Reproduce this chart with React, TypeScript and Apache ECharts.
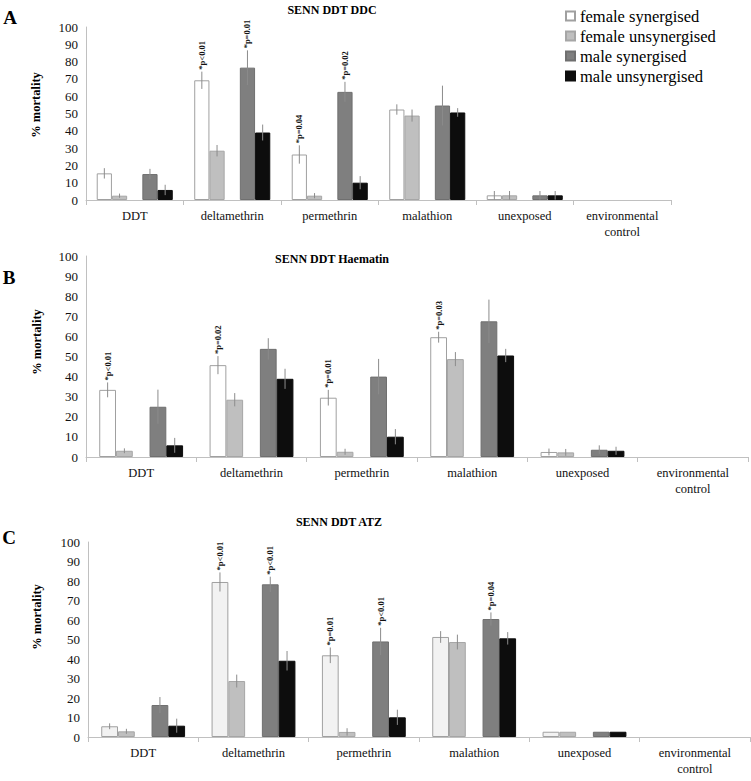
import React, { useEffect, useRef } from "react";
import * as echarts from "echarts";

// ---------- data ----------
const categories = ["DDT", "deltamethrin", "permethrin", "malathion", "unexposed", "environmental\ncontrol"];
const seriesNames = ["female synergised", "female unsynergised", "male synergised", "male unsynergised"];
const yTicks = { min: 0, max: 100, interval: 10 };

// Panel A: SENN DDT DDC
const aFemaleSyn = [15.4, 69.2, 26.3, 52.3, 2.7, 0];
const aFemaleUnsyn = [2.5, 28.5, 2.5, 48.8, 2.7, 0];
const aMaleSyn = [15, 76.5, 62.5, 54.6, 2.7, 0];
const aMaleUnsyn = [5.8, 39, 10, 50.6, 2.7, 0];
const aFemaleSynErr = [3, 5, 5.3, 3, 2.5, 0];
const aFemaleUnsynErr = [1.2, 3.3, 1.5, 3.5, 2.5, 0];
const aMaleSynErr = [3, 10, 5.8, 11.5, 2.5, 0];
const aMaleUnsynErr = [3, 4.6, 3.8, 2.5, 2.5, 0];
// [category index, series index, text]
const aNotes: [number, number, string][] = [
  [1, 0, "*p<0.01"],
  [1, 2, "*p=0.01"],
  [2, 0, "*p=0.04"],
  [2, 2, "*p=0.02"],
];

// Panel B: SENN DDT Haematin
const bFemaleSyn = [33.4, 45.7, 29.5, 59.6, 2.5, 0];
const bFemaleUnsyn = [3.1, 28.5, 2.6, 48.7, 2.3, 0];
const bMaleSyn = [25, 53.8, 40, 67.5, 3.6, 0];
const bMaleUnsyn = [5.8, 38.9, 10.1, 50.5, 3.1, 0];
const bFemaleSynErr = [3.7, 4.5, 3.9, 2.7, 1.7, 0];
const bFemaleUnsynErr = [1.2, 3.3, 1.5, 3.5, 1.7, 0];
const bMaleSynErr = [8.5, 5.3, 8.8, 10.8, 2.2, 0];
const bMaleUnsynErr = [3.7, 5, 3.8, 3.3, 2, 0];
const bNotes: [number, number, string][] = [
  [0, 0, "*p<0.01"],
  [1, 0, "*p=0.02"],
  [2, 0, "*p=0.01"],
  [3, 0, "*p=0.03"],
];

// Panel C: SENN DDT ATZ
const cFemaleSyn = [5.5, 79.5, 41.9, 51.3, 2.7, 0];
const cFemaleUnsyn = [2.9, 28.7, 2.6, 48.7, 2.7, 0];
const cMaleSyn = [16.4, 78.3, 49, 60.5, 2.7, 0];
const cMaleUnsyn = [5.8, 39.1, 10.1, 50.6, 2.7, 0];
const cFemaleSynErr = [1.5, 4.9, 4, 3, 0, 0];
const cFemaleUnsynErr = [1.3, 3.3, 1.9, 3.8, 0, 0];
const cMaleSynErr = [4.1, 3.9, 7, 3.4, 0, 0];
const cMaleUnsynErr = [3.6, 5, 3.9, 3.2, 0, 0];
const cNotes: [number, number, string][] = [
  [1, 0, "*p<0.01"],
  [1, 2, "*p<0.01"],
  [2, 0, "*p=0.01"],
  [2, 2, "*p<0.01"],
  [3, 2, "*p=0.04"],
];

// ---------- styles / layout ----------
const FONT = "Liberation Serif";
const SLOTS = [0, 1, 3, 4]; // slot 2 is an empty spacer

const panels = [
  {
    letter: "A", title: "SENN DDT DDC",
    values: [aFemaleSyn, aFemaleUnsyn, aMaleSyn, aMaleUnsyn],
    errs: [aFemaleSynErr, aFemaleUnsynErr, aMaleSynErr, aMaleUnsynErr],
    notes: aNotes,
    grid: { left: 86, top: 27, width: 585, height: 173 },
    gap: 0.22, firstColor: "#ffffff",
    titlePos: [332, 10], letterPos: [10, 17], namePos: [36, 105],
  },
  {
    letter: "B", title: "SENN DDT Haematin",
    values: [bFemaleSyn, bFemaleUnsyn, bMaleSyn, bMaleUnsyn],
    errs: [bFemaleSynErr, bFemaleUnsynErr, bMaleSynErr, bMaleUnsynErr],
    notes: bNotes,
    grid: { left: 86, top: 256, width: 662, height: 201 },
    gap: 0.24, firstColor: "#ffffff",
    titlePos: [332, 259], letterPos: [9, 277], namePos: [37, 342],
  },
  {
    letter: "C", title: "SENN DDT ATZ",
    values: [cFemaleSyn, cFemaleUnsyn, cMaleSyn, cMaleUnsyn],
    errs: [cFemaleSynErr, cFemaleUnsynErr, cMaleSynErr, cMaleUnsynErr],
    notes: cNotes,
    grid: { left: 88, top: 542, width: 662, height: 195 },
    gap: 0.24, firstColor: "#f2f2f2",
    titlePos: [339, 522], letterPos: [9, 537], namePos: [37, 617],
  },
];

const baseBarStyles = [
  { color: "#ffffff", borderColor: "#a0a0a0", borderWidth: 1 },
  { color: "#bfbfbf", borderColor: "#a6a6a6", borderWidth: 1 },
  { color: "#7f7f7f", borderColor: "#6f6f6f", borderWidth: 1 },
  { color: "#0d0d0d", borderColor: "#0d0d0d", borderWidth: 1 },
];

function buildOption() {
  const grid: any[] = [];
  const xAxis: any[] = [];
  const yAxis: any[] = [];
  const series: any[] = [];
  const graphic: any[] = [];

  panels.forEach((p, pi) => {
    grid.push({ ...p.grid, containLabel: false });
    xAxis.push({
      type: "category",
      gridIndex: pi,
      data: categories,
      axisLine: { show: true, lineStyle: { color: "#c0c0c0", width: 1 } },
      axisTick: { show: true, length: 5, lineStyle: { color: "#c0c0c0" } },
      axisLabel: {
        interval: 0, margin: 8, fontFamily: FONT, fontSize: 12.5, color: "#111", lineHeight: 16,
      },
      splitLine: { show: false },
    });
    yAxis.push({
      type: "value",
      gridIndex: pi,
      min: yTicks.min, max: yTicks.max, interval: yTicks.interval,
      axisLine: { show: true, lineStyle: { color: "#c0c0c0", width: 1 } },
      axisTick: { show: false },
      axisLabel: { margin: 8, fontFamily: FONT, fontSize: 13, color: "#111" },
      splitLine: { show: false },
    });

    // bars: 4 real series + an empty spacer in the middle
    const order = [0, 1, -1, 2, 3];
    order.forEach((si) => {
      if (si === -1) {
        series.push({
          type: "bar", name: "", xAxisIndex: pi, yAxisIndex: pi,
          data: categories.map(() => null),
          barGap: "0%", barCategoryGap: `${p.gap * 100}%`,
          silent: true,
        });
        return;
      }
      const st = { ...baseBarStyles[si] };
      if (si === 0) st.color = p.firstColor;
      series.push({
        type: "bar", name: seriesNames[si], xAxisIndex: pi, yAxisIndex: pi,
        // zero-height bars are not drawn (as in the original)
        data: p.values[si].map((v) => (v === 0 ? null : v)),
        barGap: "0%", barCategoryGap: `${p.gap * 100}%`,
        itemStyle: st,
        emphasis: { disabled: true },
      });
    });

    // error bars
    const errData: number[][] = [];
    p.values.forEach((vals, si) => {
      vals.forEach((v, ci) => {
        const e = p.errs[si][ci];
        if (e > 0) errData.push([ci, SLOTS[si], v - e, v + e]);
      });
    });
    const gap = p.gap;
    series.push({
      type: "custom", xAxisIndex: pi, yAxisIndex: pi, z: 5, silent: true,
      encode: { x: 0, y: [2, 3] },
      data: errData,
      renderItem: (params: any, api: any) => {
        const ci = api.value(0);
        const slot = api.value(1);
        const lo = api.coord([ci, api.value(2)]);
        const hi = api.coord([ci, api.value(3)]);
        const band = api.size([1, 0])[0];
        const bw = (band * (1 - gap)) / 5;
        const x = lo[0] + (slot - 2) * bw;
        return {
          type: "line",
          shape: { x1: x, y1: lo[1], x2: x, y2: hi[1] },
          style: { stroke: "#8c8c8c", lineWidth: 1 },
        };
      },
    });

    // significance annotations
    const notes = p.notes;
    const noteData = notes.map(([ci, si]) => [ci, SLOTS[si], p.values[si][ci] + p.errs[si][ci]]);
    series.push({
      type: "custom", xAxisIndex: pi, yAxisIndex: pi, z: 6, silent: true,
      encode: { x: 0, y: 2 },
      data: noteData,
      renderItem: (params: any, api: any) => {
        const ci = api.value(0);
        const slot = api.value(1);
        const pt = api.coord([ci, api.value(2)]);
        const band = api.size([1, 0])[0];
        const bw = (band * (1 - gap)) / 5;
        const x = pt[0] + (slot - 2) * bw;
        return {
          type: "text",
          x: x,
          y: pt[1] - 2,
          rotation: Math.PI / 2,
          style: {
            text: notes[params.dataIndex][2],
            font: `bold 8.5px "${FONT}"`,
            fill: "#111",
            align: "left",
            verticalAlign: "middle",
            textAlign: "left",
            textVerticalAlign: "middle",
          },
        };
      },
    });

    graphic.push(
      {
        type: "text", x: p.titlePos[0], y: p.titlePos[1],
        style: {
          text: p.title, font: `bold 12px "${FONT}"`, fill: "#000",
          align: "center", verticalAlign: "middle", textAlign: "center", textVerticalAlign: "middle",
        },
      },
      {
        type: "text", x: p.letterPos[0], y: p.letterPos[1],
        style: {
          text: p.letter, font: `bold 19px "${FONT}"`, fill: "#000",
          align: "center", verticalAlign: "middle", textAlign: "center", textVerticalAlign: "middle",
        },
      },
      {
        type: "text", x: p.namePos[0], y: p.namePos[1], rotation: Math.PI / 2,
        style: {
          text: "% mortality", font: `bold 12.5px "${FONT}"`, fill: "#000",
          align: "center", verticalAlign: "middle", textAlign: "center", textVerticalAlign: "middle",
        },
      }
    );
  });

  return {
    animation: false,
    backgroundColor: "#ffffff",
    legend: {
      data: seriesNames,
      orient: "vertical",
      left: 560,
      top: 1,
      itemWidth: 9,
      itemHeight: 9,
      itemGap: 0,
      icon: "rect",
      selectedMode: false,
      textStyle: { fontFamily: FONT, fontSize: 16.5, color: "#000", lineHeight: 20 },
    },
    grid, xAxis, yAxis, series, graphic,
  };
}

export default function App() {
  const ref = useRef<HTMLDivElement>(null);
  useEffect(() => {
    if (!ref.current) return;
    const chart = echarts.init(ref.current, undefined, { renderer: "svg" });
    chart.setOption(buildOption() as any);
    return () => chart.dispose();
  }, []);
  return (
    <div
      ref={ref}
      style={{ position: "absolute", left: 0, top: 0, width: 751, height: 781, background: "#fff" }}
    />
  );
}
